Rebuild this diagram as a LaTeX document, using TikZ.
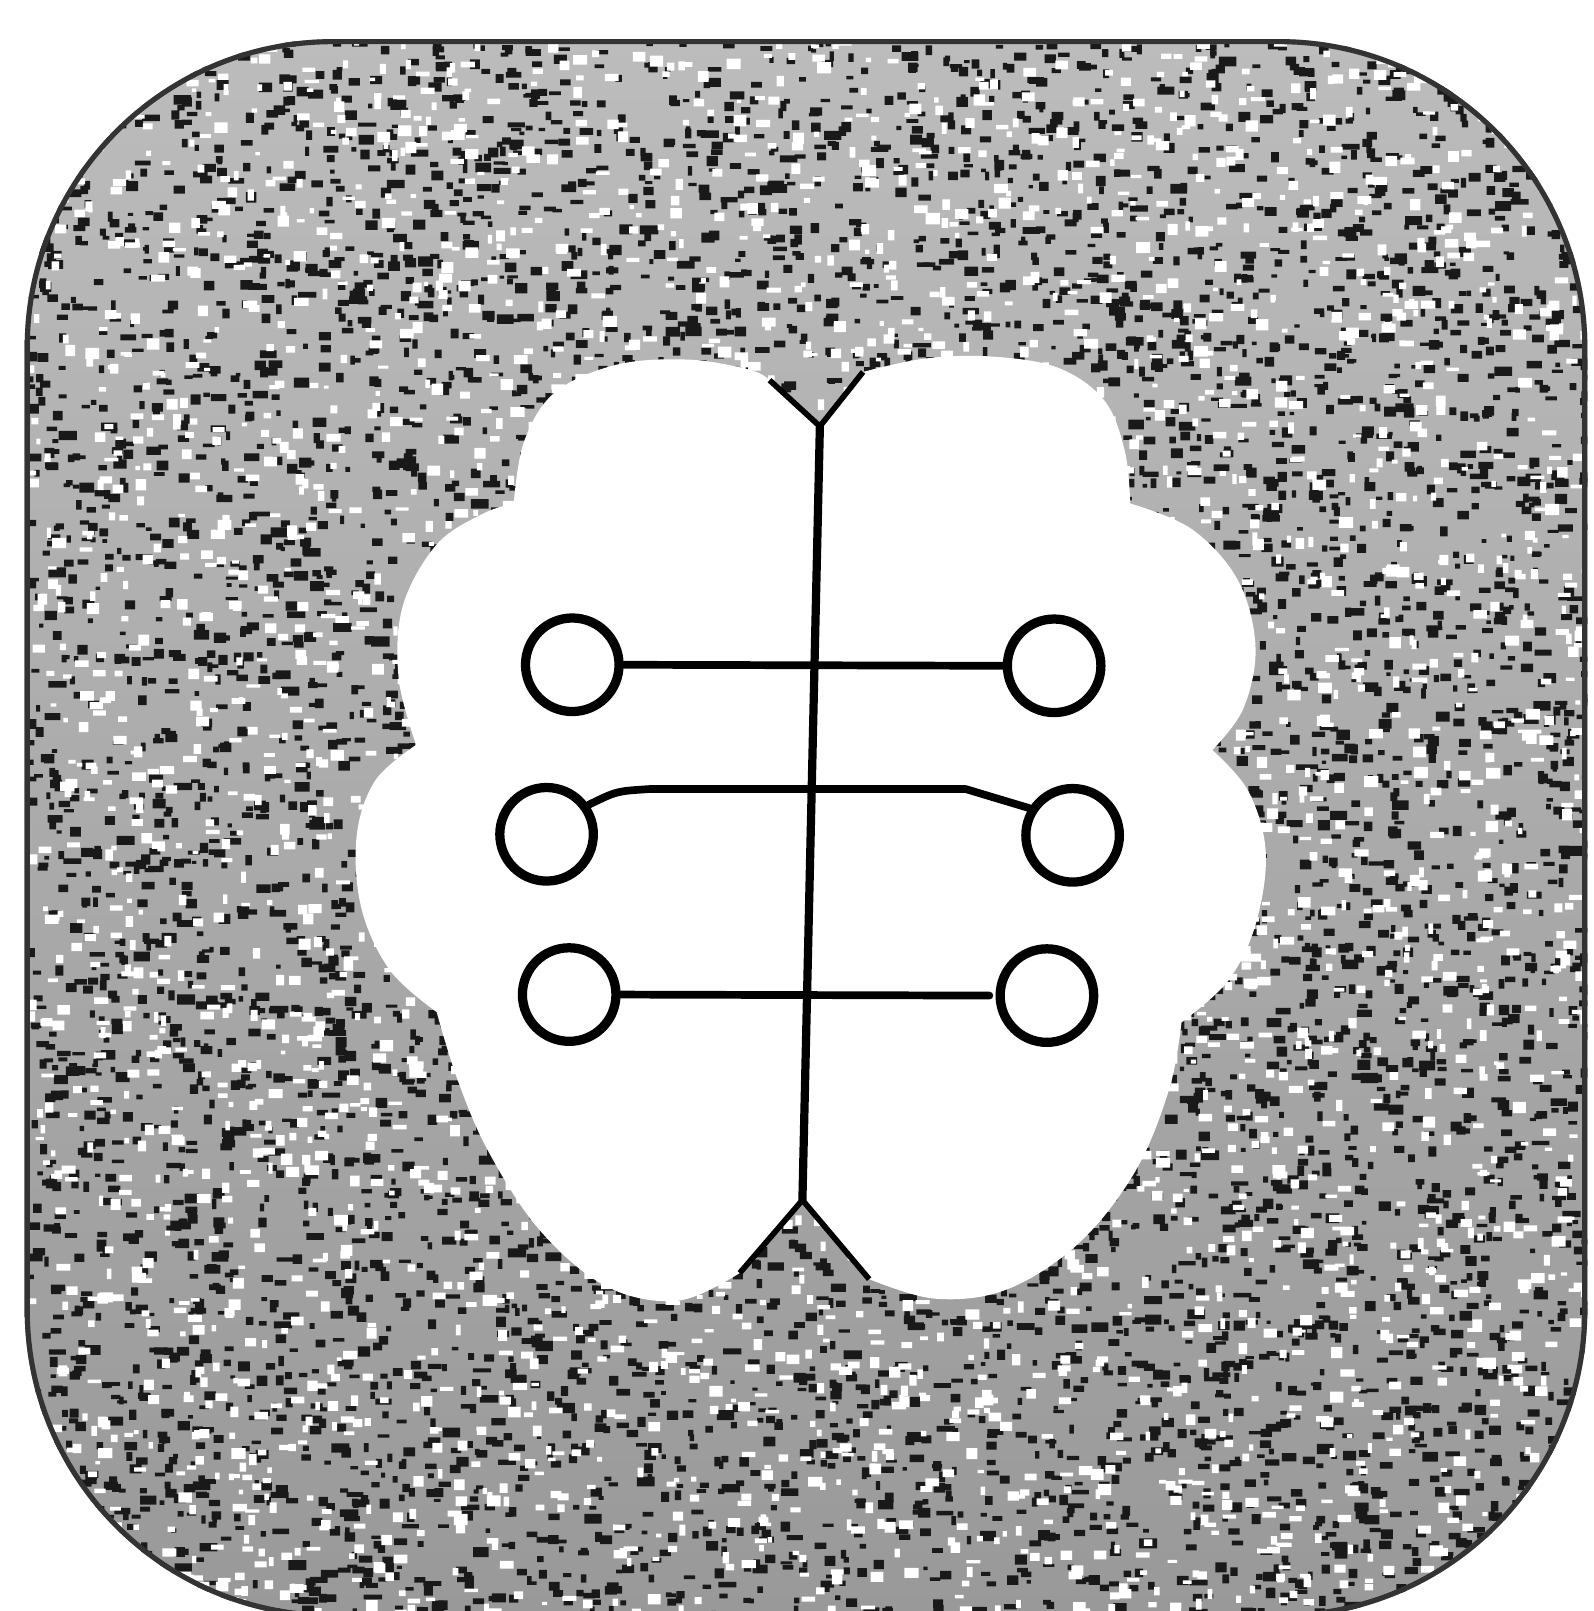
\documentclass[tikz,border=0pt]{standalone}
\usetikzlibrary{calc}
\begin{document}
\begin{tikzpicture}[x=0.01cm,y=-0.01cm,
  ring/.style={circle,draw=black,line width=0.09cm,minimum size=0.91cm,inner sep=0pt,fill=white},
  wire/.style={draw=black,line width=0.075cm,line cap=round,line join=round},
  spine/.style={draw=black,line width=0.08cm,line cap=round},
  notchline/.style={draw=black,line width=0.055cm,line join=miter}]
\pgfmathsetseed{11}
\useasboundingbox (0,0) rectangle (1551,1568);
\fill[white] (0,0) rectangle (1551,1568);
% textured rounded square
\begin{scope}
  \clip[rounded corners=3cm] (24,38) rectangle (1545,1575);
  \shade[top color=black!26,bottom color=black!40] (0,0) rectangle (1551,1575);
  \fill[black!90] foreach \i in {1,...,6000} {({24+rnd*1521},{38+rnd*1537}) rectangle ++({4+rnd*8},{3+rnd*7})};
  \fill[black!90] foreach \i in {1,...,1200} {({24+rnd*1521},{38+rnd*1537}) rectangle ++({8+rnd*10},{4+rnd*6})};
  \fill[white] foreach \i in {1,...,3500} {({24+rnd*1521},{38+rnd*1537}) rectangle ++({4+rnd*10},{3+rnd*8})};
  \draw[black!80,line width=0.1cm,rounded corners=3cm] (24,38) rectangle (1545,1575);
\end{scope}
% white brain shape
\coordinate (tapex) at (798,415);
\coordinate (tl) at (749,370);
\coordinate (tr) at (840,362);
\coordinate (bapex) at (781,1168);
\coordinate (bl) at (720,1239);
\coordinate (br) at (846,1245);
\fill[white] (tapex) -- (tr)
 -- plot[smooth,tension=0.6] coordinates {(840,362) (900,349) (965,347) (1030,358) (1075,390) (1095,440) (1100,490)}
 -- plot[smooth,tension=0.6] coordinates {(1100,490) (1160,515) (1205,565) (1222,630) (1210,690) (1180,730)}
 -- plot[smooth,tension=0.6] coordinates {(1180,730) (1215,770) (1232,830) (1222,900) (1195,955) (1150,995)}
 -- plot[smooth,tension=0.6] coordinates {(1150,995) (1138,1060) (1105,1140) (1050,1210) (980,1255) (910,1264) (846,1245)}
 -- (bapex) -- (bl)
 -- plot[smooth,tension=0.6] coordinates {(720,1239) (660,1266) (590,1252) (525,1197) (475,1120) (445,1050) (425,985)}
 -- plot[smooth,tension=0.6] coordinates {(425,985) (380,945) (352,885) (347,815) (365,760) (405,725)}
 -- plot[smooth,tension=0.6] coordinates {(405,725) (388,660) (392,590) (425,530) (470,500) (500,490)}
 -- plot[smooth,tension=0.6] coordinates {(500,490) (510,430) (540,382) (600,355) (670,350) (730,360) (749,370)}
 -- cycle;
\draw[notchline] (tl) -- (tapex) -- (tr);
\draw[notchline] (bl) -- (bapex) -- (br);
\draw[spine] (tapex) -- (bapex);
% circles
\node[ring] (L1) at (557,647) {};
\node[ring] (L2) at (532,812) {};
\node[ring] (L3) at (554,968) {};
\node[ring] (R1) at (1026,648) {};
\node[ring] (R2) at (1044,813) {};
\node[ring] (R3) at (1019,969) {};
% connectors
\draw[wire] (L1.east) -- (R1.west);
\draw[wire] (L2.35) .. controls (600,770) .. (632,768) -- (940,768) -- (R2.148);
\draw[wire,shorten >=0.06cm] (L3.east) -- (R3.west);
\end{tikzpicture}
\end{document}
